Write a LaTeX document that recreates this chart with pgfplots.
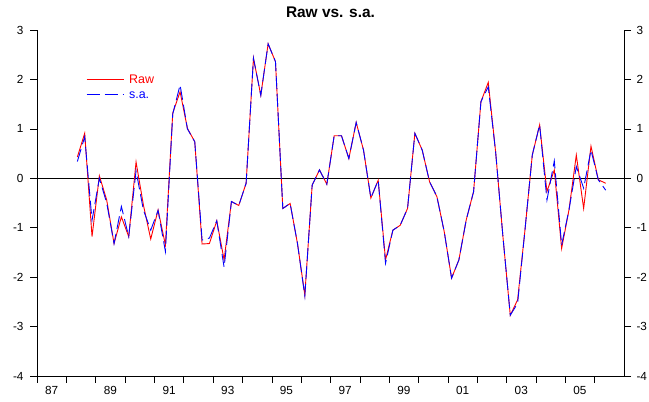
\documentclass[border=0pt]{standalone}
\usepackage{fontspec}
\setmainfont{Liberation Sans}
\usepackage{pgfplots}
\usepackage{pgfplotstable}
\pgfplotsset{compat=1.18}

\pgfplotstableread{
x raw sa
1988.375 0.43 0.34
1988.625 0.91 0.84
1988.875 -1.18 -0.85
1989.125 0.05 0.00
1989.375 -0.44 -0.50
1989.625 -1.32 -1.32
1989.875 -0.78 -0.57
1990.125 -1.18 -1.18
1990.375 0.33 0.15
1990.625 -0.54 -0.64
1990.875 -1.23 -1.05
1991.125 -0.64 -0.65
1991.375 -1.35 -1.48
1991.625 1.32 1.30
1991.875 1.75 1.89
1992.125 1.01 1.00
1992.375 0.74 0.74
1992.625 -1.33 -1.25
1992.875 -1.32 -1.21
1993.125 -0.86 -0.86
1993.375 -1.65 -1.80
1993.625 -0.47 -0.47
1993.875 -0.55 -0.55
1994.125 -0.10 -0.10
1994.375 2.43 2.43
1994.625 1.68 1.68
1994.875 2.72 2.72
1995.125 2.36 2.36
1995.375 -0.61 -0.61
1995.625 -0.51 -0.51
1995.875 -1.32 -1.32
1996.125 -2.36 -2.38
1996.375 -0.14 -0.14
1996.625 0.17 0.17
1996.875 -0.12 -0.12
1997.125 0.86 0.86
1997.375 0.86 0.86
1997.625 0.40 0.40
1997.875 1.13 1.13
1998.125 0.57 0.57
1998.375 -0.40 -0.40
1998.625 -0.04 -0.04
1998.875 -1.65 -1.72
1999.125 -1.05 -1.05
1999.375 -0.95 -0.95
1999.625 -0.61 -0.61
1999.875 0.91 0.91
2000.125 0.57 0.57
2000.375 -0.07 -0.07
2000.625 -0.37 -0.37
2000.875 -1.08 -1.08
2001.125 -2.02 -2.02
2001.375 -1.65 -1.65
2001.625 -0.84 -0.84
2001.875 -0.27 -0.27
2002.125 1.55 1.55
2002.375 1.94 1.85
2002.625 0.54 0.54
2002.875 -1.18 -1.18
2003.125 -2.77 -2.77
2003.375 -2.46 -2.53
2003.625 -1.05 -1.05
2003.875 0.47 0.47
2004.125 1.08 1.08
2004.375 -0.27 -0.44
2004.625 0.17 0.35
2004.875 -1.42 -1.35
2005.125 -0.64 -0.64
2005.375 0.47 0.24
2005.625 -0.61 -0.20
2005.875 0.65 0.57
2006.125 -0.03 -0.03
2006.375 -0.10 -0.24
}\datatable

\begin{document}
\begin{tikzpicture}
\path[use as bounding box] (-37bp,-26bp) rectangle (612bp,376bp);
\pgfplotsset{
  common/.style={
    scale only axis, width=587bp, height=346bp,
    xmin=1987, xmax=2007, ymin=-4, ymax=3,
    at={(0,0)}, anchor=south west,
    tick align=outside,
    major tick length=7bp,
    tick style={black, line width=0.6bp},
    axis line style={black, line width=0.8bp},
    ytick={-4,-3,-2,-1,0,1,2,3},
    /pgf/number format/assume math mode=true,
    ticklabel style={font=\fontsize{11.8}{14}\selectfont},
  }
}
\begin{axis}[common,
  axis x line*=bottom, axis y line*=left,
  xtick={1987,1988,1989,1990,1991,1992,1993,1994,1995,1996,1997,1998,1999,2000,2001,2002,2003,2004,2005,2006},
  xticklabels=\empty,
  extra x ticks={1987.5,1989.5,1991.5,1993.5,1995.5,1997.5,1999.5,2001.5,2003.5,2005.5},
  extra x tick labels={87,89,91,93,95,97,99,01,03,05},
  extra x tick style={major tick length=0pt, tick style={draw=none}, xticklabel style={yshift=-7bp}},
  yticklabel style={xshift=-3bp},
  title={Raw vs. s.a.},
  title style={font=\fontsize{15.5}{18}\selectfont\bfseries, at={(0.5,1)}, anchor=center, yshift=12bp},
  legend style={draw=none, fill=none, at={(0.0835,0.878)}, anchor=north west,
    inner sep=0pt, row sep=0pt, font=\fontsize{12.5}{14}\selectfont,
    nodes={inner ysep=2bp, inner xsep=5bp, text height=9bp, text depth=2bp}},
  legend cell align=left,
  legend image code/.code={\draw[#1] (0bp,0bp) -- (37bp,0bp);},
]
\addplot[black, line width=0.8bp, forget plot] coordinates {(1987,0) (2007,0)};
\addplot[red, line width=0.9bp] table[x=x,y=raw]{\datatable};
\addlegendentry{\textcolor{red}{Raw}}
\addplot[blue, line width=0.9bp, dash pattern=on 13bp off 5bp] table[x=x,y=sa]{\datatable};
\addlegendentry{\textcolor{blue}{s.a.}}
\end{axis}
\begin{axis}[common, axis x line=none, axis y line*=right, yticklabel style={xshift=2bp}]
\end{axis}
\end{tikzpicture}
\end{document}
